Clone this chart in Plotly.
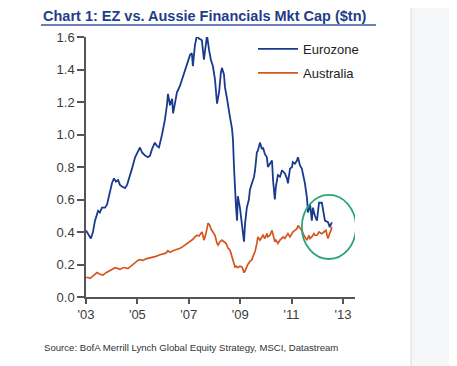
import plotly.graph_objects as go

# ---- data ----
ez_year = [2003.00, 2003.08, 2003.19, 2003.27, 2003.35, 2003.47, 2003.54, 2003.62, 2003.74, 2003.82,
           2003.93, 2004.01, 2004.09, 2004.17, 2004.25, 2004.32, 2004.40, 2004.52, 2004.60, 2004.71,
           2004.79, 2004.91, 2004.98, 2005.10, 2005.18, 2005.30, 2005.41, 2005.49, 2005.57, 2005.68,
           2005.76, 2005.84, 2005.96, 2006.07, 2006.15, 2006.19, 2006.27, 2006.35, 2006.39, 2006.46,
           2006.54, 2006.66, 2006.74, 2006.85, 2006.97, 2007.05, 2007.12, 2007.16, 2007.24, 2007.32,
           2007.40, 2007.51, 2007.59, 2007.63, 2007.71, 2007.79, 2007.86, 2007.94, 2008.02, 2008.10,
           2008.18, 2008.25, 2008.29, 2008.37, 2008.41, 2008.49, 2008.53, 2008.60, 2008.68, 2008.72,
           2008.76, 2008.80, 2008.84, 2008.88, 2008.91, 2008.99, 2009.07, 2009.11, 2009.15, 2009.19,
           2009.26, 2009.34, 2009.38, 2009.46, 2009.54, 2009.58, 2009.65, 2009.69, 2009.77, 2009.85,
           2009.89, 2009.96, 2010.04, 2010.08,
           2010.16, 2010.24, 2010.28, 2010.35, 2010.39, 2010.47, 2010.55, 2010.63, 2010.74, 2010.82,
           2010.86, 2010.94, 2011.02, 2011.05, 2011.13, 2011.21, 2011.25, 2011.33, 2011.40, 2011.44,
           2011.52, 2011.60, 2011.64, 2011.72, 2011.79, 2011.83, 2011.91, 2011.99, 2012.07, 2012.18,
           2012.22, 2012.30, 2012.42, 2012.49, 2012.57]
ez_val = [0.41, 0.39, 0.36, 0.40, 0.47, 0.53, 0.52, 0.55, 0.55, 0.57,
          0.64, 0.70, 0.73, 0.71, 0.72, 0.69, 0.68, 0.67, 0.69, 0.74,
          0.79, 0.86, 0.88, 0.92, 0.89, 0.87, 0.86, 0.87, 0.91, 0.95,
          0.93, 0.92, 1.00, 1.09, 1.18, 1.25, 1.18, 1.22, 1.13, 1.20,
          1.26, 1.30, 1.34, 1.40, 1.46, 1.49, 1.50, 1.42, 1.55, 1.61,
          1.59, 1.58, 1.46, 1.50, 1.61, 1.52, 1.46, 1.42, 1.34, 1.19,
          1.26, 1.38, 1.41, 1.37, 1.29, 1.22, 1.17, 1.11, 1.04, 0.97,
          0.80, 0.64, 0.55, 0.47, 0.62, 0.55, 0.45, 0.40, 0.34, 0.45,
          0.55, 0.60, 0.66, 0.70, 0.74, 0.78, 0.89, 0.90, 0.95, 0.91,
          0.92, 0.88, 0.86, 0.80,
          0.82, 0.84, 0.72, 0.60, 0.68, 0.75, 0.74, 0.78, 0.76, 0.73,
          0.70, 0.79, 0.80, 0.83, 0.82, 0.84, 0.86, 0.81, 0.79, 0.76,
          0.70, 0.61, 0.52, 0.57, 0.47, 0.55, 0.50, 0.47, 0.58, 0.58,
          0.54, 0.47, 0.46, 0.43, 0.46]

au_year = [2003.00, 2003.08, 2003.16, 2003.27, 2003.35, 2003.43, 2003.54, 2003.66, 2003.78, 2003.93,
           2004.05, 2004.13, 2004.25, 2004.32, 2004.44, 2004.52, 2004.63, 2004.71, 2004.83, 2004.91,
           2005.02, 2005.10, 2005.22, 2005.33, 2005.49, 2005.61, 2005.72, 2005.88, 2006.00, 2006.11,
           2006.19, 2006.27, 2006.39, 2006.50, 2006.66, 2006.77, 2006.89, 2007.05, 2007.16, 2007.24,
           2007.32, 2007.40, 2007.47, 2007.51, 2007.55, 2007.59, 2007.67, 2007.75, 2007.82, 2007.86,
           2007.94, 2008.02, 2008.10, 2008.14, 2008.21, 2008.29, 2008.37, 2008.45, 2008.53, 2008.60,
           2008.64, 2008.72, 2008.76, 2008.80, 2008.84, 2008.91, 2008.99, 2009.07, 2009.11, 2009.15,
           2009.19, 2009.23, 2009.30, 2009.38, 2009.46, 2009.50, 2009.58, 2009.65, 2009.69, 2009.77,
           2009.85, 2009.89, 2009.96, 2010.04, 2010.08, 2010.16, 2010.24, 2010.28, 2010.35, 2010.39,
           2010.47, 2010.55, 2010.63, 2010.67, 2010.74, 2010.82, 2010.86, 2010.94, 2011.02, 2011.05,
           2011.13, 2011.21, 2011.25, 2011.33, 2011.40, 2011.48, 2011.56, 2011.60, 2011.68, 2011.72,
           2011.79, 2011.87, 2011.91, 2011.99, 2012.07, 2012.14, 2012.18, 2012.26, 2012.34, 2012.38,
           2012.42, 2012.46, 2012.49, 2012.53, 2012.57]
au_val = [0.12, 0.12, 0.115, 0.13, 0.14, 0.15, 0.14, 0.135, 0.15, 0.165,
          0.175, 0.18, 0.175, 0.17, 0.18, 0.18, 0.175, 0.185, 0.20, 0.215,
          0.225, 0.23, 0.225, 0.235, 0.24, 0.245, 0.25, 0.26, 0.265, 0.27,
          0.285, 0.275, 0.285, 0.29, 0.30, 0.31, 0.325, 0.34, 0.355, 0.37,
          0.38, 0.375, 0.39, 0.40, 0.38, 0.35, 0.39, 0.455, 0.44, 0.42,
          0.40, 0.38, 0.33, 0.32, 0.34, 0.35, 0.34, 0.33, 0.30, 0.29,
          0.27, 0.23, 0.21, 0.185, 0.19, 0.18, 0.19, 0.185, 0.17, 0.15,
          0.16, 0.18, 0.20, 0.22, 0.23, 0.25, 0.28, 0.33, 0.37, 0.35,
          0.37, 0.38, 0.36, 0.39, 0.37, 0.38, 0.41, 0.38, 0.34, 0.35,
          0.33, 0.35, 0.36, 0.37, 0.36, 0.38, 0.39, 0.37, 0.39, 0.40,
          0.41, 0.42, 0.44, 0.42, 0.41, 0.38, 0.36, 0.35, 0.38, 0.36,
          0.37, 0.39, 0.38, 0.38, 0.40, 0.39, 0.39, 0.40, 0.41, 0.38,
          0.36, 0.38, 0.40, 0.41, 0.43]

tick_years = [2003, 2005, 2007, 2009, 2011, 2013]
tick_labels = ["'03", "'05", "'07", "'09", "'11", "'13"]
y_ticks = [0.0, 0.2, 0.4, 0.6, 0.8, 1.0, 1.2, 1.4, 1.6]
y_labels = ["0.0", "0.2", "0.4", "0.6", "0.8", "1.0", "1.2", "1.4", "1.6"]

series_names = ["Eurozone", "Australia"]
series_colors = ["#1a3a8c", "#d4561e"]

title_text = "Chart 1: EZ vs. Aussie Financials Mkt Cap ($tn)"
source_text = "Source: BofA Merrill Lynch Global Equity Strategy, MSCI, Datastream"

fig = go.Figure()
fig.add_trace(go.Scatter(x=ez_year, y=ez_val, mode="lines", name=series_names[0],
                         legendgroup="a",
                         line=dict(color=series_colors[0], width=1.8)))
fig.add_trace(go.Scatter(x=au_year, y=au_val, mode="lines", name=series_names[1],
                         legendgroup="b",
                         line=dict(color=series_colors[1], width=1.7)))

# the page body adds an 8px offset; the figure is sized/positioned to compensate
OFF = 8
W, H = 457 - OFF, 366 - OFF
L, R, T, B = 86 - OFF, 457 - 355, 37 - OFF, 366 - 297
pw, ph = W - L - R, H - T - B

def px_x(p):
    return (p - OFF - L) / pw

def px_y(p):
    return (H + OFF - B - p) / ph

shapes = [
    # grey side panel on the right
    dict(type="rect", xref="paper", yref="paper", x0=px_x(411), x1=px_x(470),
         y0=px_y(380), y1=px_y(0), fillcolor="#f5f6f8", line=dict(width=0), layer="below"),
    dict(type="line", xref="paper", yref="paper", x0=px_x(411), x1=px_x(411),
         y0=px_y(380), y1=px_y(0), line=dict(color="#dcdcdc", width=1)),
    # title underline
    dict(type="line", xref="paper", yref="paper", x0=px_x(41), x1=px_x(376),
         y0=px_y(25), y1=px_y(25), line=dict(color="#3a55a0", width=1.5)),
    # green highlight ellipse
    dict(type="circle", xref="x", yref="y", x0=2011.40, x1=2013.51, y0=0.234, y1=0.628,
         line=dict(color="#2aa57a", width=1.8)),
]

annotations = [
    dict(text=title_text, xref="paper", yref="paper", x=px_x(41), y=px_y(15.5),
         xanchor="left", yanchor="middle", showarrow=False,
         font=dict(family="Liberation Sans, Arial", size=14.5, color="#1f3d8a", weight="bold")),
    dict(text=source_text, xref="paper", yref="paper", x=px_x(42), y=px_y(347),
         xanchor="left", yanchor="middle", showarrow=False,
         font=dict(family="Liberation Sans, Arial", size=9.6, color="#333333")),
]

fig.update_layout(
    width=W, height=H,
    margin=dict(l=L, r=R, t=T, b=B, pad=0),
    paper_bgcolor="white", plot_bgcolor="white",
    font=dict(family="Liberation Sans, Arial", size=13, color="#3a3a3a"),
    showlegend=True,
    legend=dict(x=px_x(253), y=px_y(34), xanchor="left", yanchor="top",
                bgcolor="rgba(0,0,0,0)", tracegroupgap=4,
                font=dict(size=13, color="#222222"), itemwidth=40),
    xaxis=dict(range=[2003, 2013.47], tickvals=tick_years, ticktext=tick_labels,
               showgrid=False, zeroline=False, showline=True, linecolor="#555555",
               linewidth=1.5, ticks="outside", ticklen=5, tickcolor="#555555",
               tickwidth=1.5, fixedrange=True),
    yaxis=dict(range=[0, 1.6], tickvals=y_ticks, ticktext=y_labels,
               showgrid=False, zeroline=False, showline=True, linecolor="#555555",
               linewidth=1.5, ticks="outside", ticklen=7, tickcolor="#555555",
               tickwidth=1.5, fixedrange=True),
    shapes=shapes, annotations=annotations,
)

fig.write_html("out.html")
